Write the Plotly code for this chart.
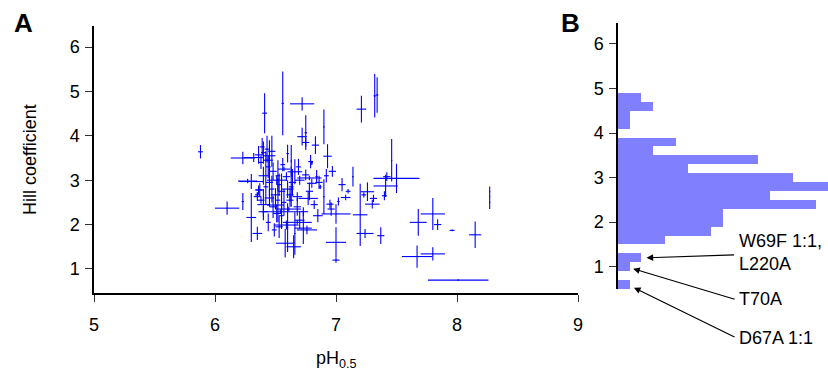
import plotly.graph_objects as go

# ---------------- Panel A data: pH0.5 vs Hill coefficient with errors ----------------
ph = [5.88, 6.23, 6.41, 6.30, 6.10, 6.23, 6.30, 6.35, 6.35, 6.38,
      6.40, 6.56, 6.72, 6.75, 6.90, 7.21, 7.32, 7.34, 6.93, 7.14,
      7.46, 7.50, 7.42, 7.41, 7.40, 7.20, 7.24, 7.37, 7.23, 7.26,
      7.30, 7.31, 7.00, 7.00, 7.08, 7.02, 6.95, 7.68, 7.80, 7.67,
      7.80, 7.84, 7.96, 8.15, 8.27, 8.27, 8.01, 7.00,
      6.36, 6.32, 6.40, 6.43, 6.45, 6.42, 6.47, 6.38, 6.44, 6.48,
      6.39, 6.63, 6.69, 6.72, 6.75, 6.83, 6.79, 6.80, 6.51, 6.59,
      6.66, 6.70, 6.75, 6.80, 6.37, 6.35, 6.50, 6.62, 6.68, 6.84,
      6.87, 6.90, 6.77, 6.54, 6.50, 6.51, 6.49, 6.58, 6.59, 6.65,
      6.70, 6.76, 6.73, 6.62, 6.60, 6.66, 6.73, 6.45, 6.47, 6.53,
      6.55, 6.57, 6.60, 6.64, 6.52, 6.45, 6.42, 6.48, 6.55, 6.44,
      6.53, 6.68, 6.82, 6.85, 6.78, 6.92, 6.60, 6.86, 6.96, 6.56,
      6.40, 7.05, 7.10, 6.97, 6.27, 6.36,
      6.45, 6.52, 6.61, 6.68, 6.57, 6.78, 6.40, 6.63]
hill = [3.64, 3.50, 4.51, 2.97, 2.37, 2.52, 2.16, 1.80, 2.67, 2.55,
        2.29, 4.73, 4.72, 4.07, 4.20, 4.60, 4.90, 4.92, 3.54, 3.08,
        3.45, 3.04, 3.08, 2.87, 2.65, 2.22, 1.80, 1.75, 2.67, 2.74,
        2.46, 2.59, 1.60, 2.24, 2.61, 2.52, 2.46, 2.05, 2.24, 1.28,
        1.34, 2.00, 1.87, 1.77, 2.74, 2.50, 0.75, 1.20,
        3.57, 3.51, 3.62, 3.70, 3.55, 3.45, 3.65, 3.40, 3.30, 3.20,
        3.75, 3.43, 3.30, 3.98, 3.85, 3.79, 3.42, 3.39, 3.00, 3.08,
        3.19, 3.00, 3.12, 2.93, 2.78, 2.63, 2.67, 2.67, 2.63, 3.08,
        2.85, 2.63, 2.59, 2.29, 2.44, 2.25, 1.88, 1.58, 1.99, 1.50,
        2.10, 1.88, 2.29, 2.55, 1.93, 1.80, 1.92, 2.60, 2.80, 2.90,
        2.75, 2.50, 2.80, 2.95, 3.10, 2.95, 2.85, 2.40, 2.20, 2.05,
        1.95, 2.40, 2.45, 2.20, 2.75, 3.10, 3.60, 2.95, 2.35, 3.35,
        3.10, 2.90, 2.75, 3.20, 2.98, 2.78,
        3.45, 2.55, 2.35, 2.05, 3.25, 3.05, 2.45, 2.85]
ph_err = [0.02, 0.10, 0.02, 0.10, 0.10, 0.01, 0.04, 0.04, 0.02, 0.03,
          0.04, 0.01, 0.10, 0.01, 0.005, 0.04, 0.01, 0.01, 0.035, 0.005,
          0.005, 0.19, 0.03, 0.10, 0.02, 0.06, 0.07, 0.03, 0.02, 0.055,
          0.06, 0.03, 0.083, 0.12, 0.04, 0.01, 0.03, 0.07, 0.10, 0.125,
          0.10, 0.03, 0.02, 0.05, 0.005, 0.005, 0.25, 0.03,
          0.03, 0.08, 0.02, 0.02, 0.05, 0.02, 0.03, 0.02, 0.02, 0.03,
          0.02, 0.005, 0.02, 0.04, 0.03, 0.03, 0.02, 0.01, 0.08, 0.03,
          0.06, 0.04, 0.03, 0.04, 0.03, 0.03, 0.04, 0.03, 0.04, 0.01,
          0.01, 0.005, 0.08, 0.15, 0.07, 0.03, 0.02, 0.075, 0.10, 0.06,
          0.04, 0.083, 0.04, 0.03, 0.005, 0.005, 0.07, 0.04, 0.02, 0.02,
          0.03, 0.02, 0.05, 0.03, 0.02, 0.03, 0.02, 0.03, 0.02, 0.02,
          0.03, 0.03, 0.03, 0.04, 0.03, 0.02, 0.01, 0.03, 0.03, 0.02,
          0.04, 0.03, 0.02, 0.03, 0.08, 0.03,
          0.03, 0.02, 0.10, 0.12, 0.05, 0.10, 0.05, 0.02]
hill_err = [0.15, 0.14, 0.45, 0.17, 0.15, 0.19, 0.55, 0.15, 0.05, 0.08,
            0.12, 0.72, 0.15, 0.39, 0.39, 0.30, 0.49, 0.40, 0.27, 0.22,
            0.48, 0.33, 0.10, 0.25, 0.10, 0.70, 0.10, 0.19, 0.06, 0.21,
            0.10, 0.08, 0.34, 0.22, 0.06, 0.09, 0.10, 0.30, 0.36, 0.25,
            0.15, 0.12, 0.02, 0.30, 0.12, 0.15, 0.02, 0.06,
            0.20, 0.10, 0.25, 0.30, 0.15, 0.20, 0.35, 0.15, 0.25, 0.20,
            0.20, 0.36, 0.18, 0.20, 0.10, 0.20, 0.15, 0.05, 0.10, 0.10,
            0.28, 0.10, 0.12, 0.10, 0.15, 0.10, 0.15, 0.15, 0.10, 0.15,
            0.05, 0.39, 0.15, 0.05, 0.10, 0.20, 0.15, 0.32, 0.10, 0.26,
            0.20, 0.10, 0.10, 0.15, 0.55, 0.48, 0.36, 0.20, 0.30, 0.25,
            0.40, 0.30, 0.20, 0.30, 0.35, 0.30, 0.40, 0.25, 0.30, 0.20,
            0.25, 0.20, 0.10, 0.15, 0.20, 0.15, 0.20, 0.15, 0.15, 0.15,
            0.20, 0.15, 0.05, 0.12, 0.05, 0.10,
            0.45, 0.50, 0.05, 0.05, 0.05, 0.05, 0.35, 0.45]

# ---------------- Panel B data: histogram of Hill coefficients ----------------
bin_centers = [4.8, 4.6, 4.4, 4.2, 4.0, 3.8, 3.6, 3.4, 3.2, 3.0, 2.8,
               2.6, 2.4, 2.2, 2.0, 1.8, 1.6, 1.4, 1.2, 1.0, 0.8, 0.6]
bin_counts = [2, 3, 1, 1, 0, 5, 3, 12, 6, 15, 18,
              13, 17, 9, 9, 8, 4, 0, 2, 1, 0, 1]
bin_width = 0.2

x_ticks = [5, 6, 7, 8, 9]
y_ticks = [1, 2, 3, 4, 5, 6]

W, H = 828, 379
FONT = "Liberation Sans, Arial, Helvetica, sans-serif"


def px_x(p):
    return p / W


def px_y(p):
    return 1 - p / H


fig = go.Figure()

fig.add_trace(go.Scatter(
    x=ph, y=hill, mode="markers",
    marker=dict(size=1, color="#0000FF"),
    error_x=dict(type="data", array=ph_err, color="#0000FF", thickness=1.1, width=0),
    error_y=dict(type="data", array=hill_err, color="#0000FF", thickness=1.1, width=0),
    xaxis="x", yaxis="y", showlegend=False, hoverinfo="skip",
))

fig.add_trace(go.Bar(
    x=bin_counts, y=bin_centers, orientation="h", width=bin_width,
    marker=dict(color="#8080FF", line=dict(width=0)),
    xaxis="x2", yaxis="y2", showlegend=False,
))

axis_common = dict(
    showline=True, linecolor="black", linewidth=1.5,
    ticks="outside", ticklen=7, tickwidth=1.3, tickcolor="#333333",
    showgrid=False, zeroline=False, automargin=False,
    tickfont=dict(family=FONT, size=18, color="black"),
)

fig.update_layout(
    width=W, height=H,
    margin=dict(l=0, r=0, t=0, b=0),
    paper_bgcolor="white", plot_bgcolor="white",
    font=dict(family=FONT, size=18, color="black"),
    bargap=0,
    xaxis=dict(domain=[px_x(94), px_x(578)], range=[5, 9], tickvals=x_ticks,
               anchor="y", ticklabelstandoff=8, **axis_common),
    yaxis=dict(domain=[px_y(293), px_y(26)], range=[0.459, 6.473], tickvals=y_ticks,
               anchor="x", ticklabelstandoff=2, **axis_common),
    xaxis2=dict(domain=[px_x(618), 1.0], range=[0, 18], visible=False,
                anchor="y2"),
    yaxis2=dict(domain=[px_y(289), px_y(23)], range=[0.5, 6.47], tickvals=y_ticks,
                anchor="x2", ticklabelstandoff=2, **axis_common),
)

annotations = [
    dict(text="<b>A</b>", x=px_x(23), y=px_y(23), font=dict(size=26)),
    dict(text="<b>B</b>", x=px_x(570), y=px_y(23), font=dict(size=26)),
    dict(text="Hill coefficient", x=px_x(30), y=px_y(160), textangle=-90,
         font=dict(size=18)),
    dict(text="pH<sub>0.5</sub>", x=px_x(336), y=px_y(359), font=dict(size=18)),
    dict(text="W69F 1:1,<br>L220A", x=px_x(737), y=px_y(252.5), xanchor="left",
         align="left", font=dict(size=18)),
    dict(text="T70A", x=px_x(737), y=px_y(299), xanchor="left", font=dict(size=18)),
    dict(text="D67A 1:1", x=px_x(737), y=px_y(337.5), xanchor="left", font=dict(size=18)),
]
for a in annotations:
    a.setdefault("xref", "paper")
    a.setdefault("yref", "paper")
    a.setdefault("showarrow", False)
    a.setdefault("xanchor", "center")
    a.setdefault("yanchor", "middle")
    fig.add_annotation(**a)

# arrows pointing at the low-Hill bins
arrows = [
    (2.45, 1.20, 89, -3),
    (1.30, 0.955, 103, 31),
    (1.37, 0.53, 102, 50),
]
for xa, ya, dx, dy in arrows:
    fig.add_annotation(x=xa, y=ya, xref="x2", yref="y2", text="",
                       showarrow=True, ax=dx, ay=dy, arrowhead=2,
                       arrowsize=1.1, arrowwidth=1.2, arrowcolor="black",
                       standoff=0, startstandoff=0)

fig.write_html("out.html", config={"displayModeBar": False},
               post_script="document.body.style.margin='0';document.body.style.overflow='hidden';")
